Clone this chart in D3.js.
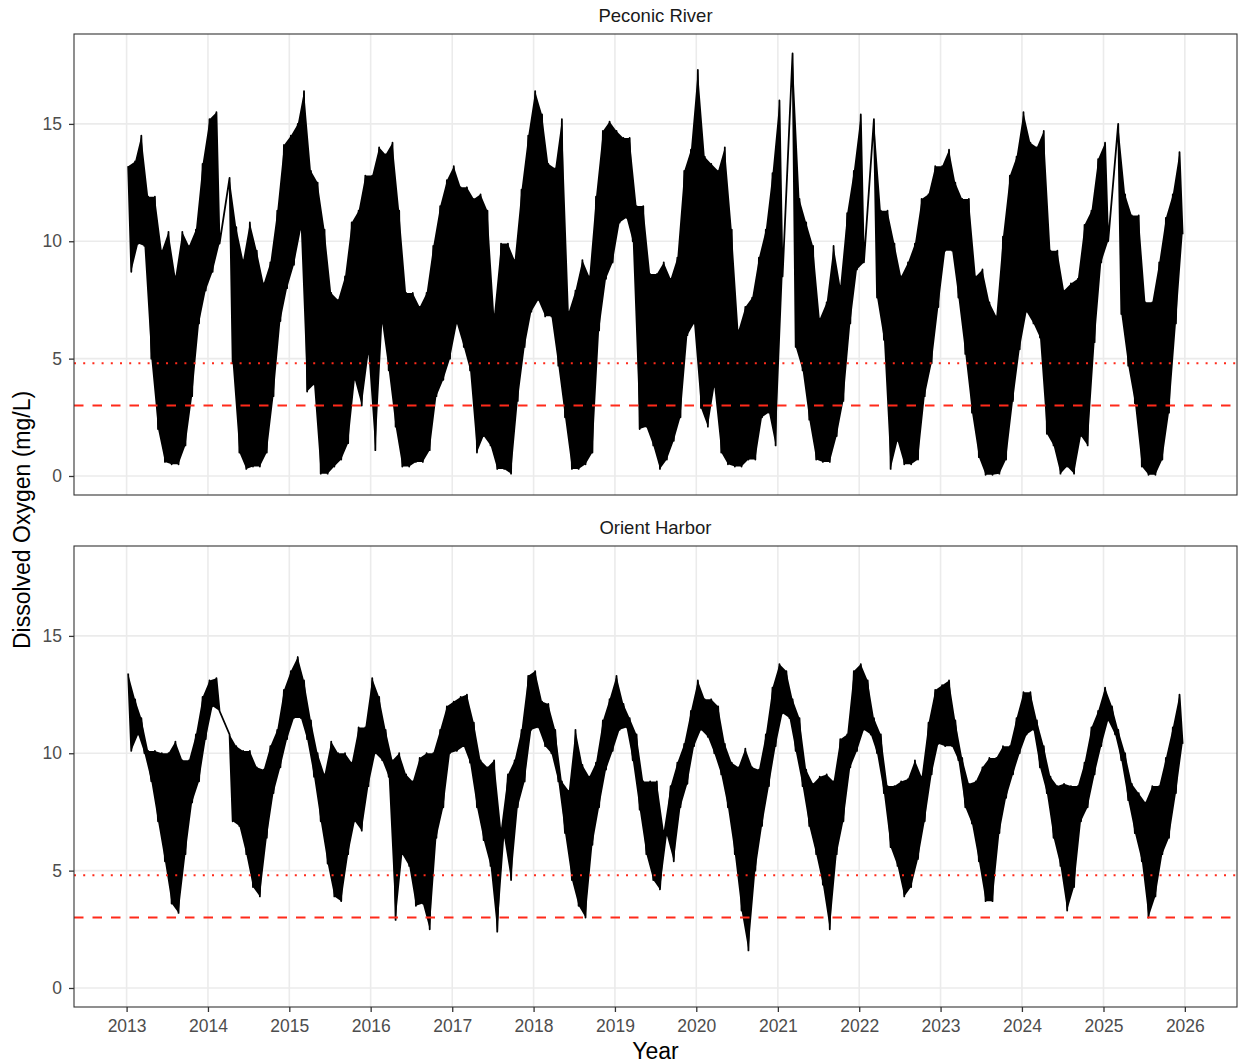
<!DOCTYPE html>
<html>
<head>
<meta charset="utf-8">
<script src="https://cdn.jsdelivr.net/npm/d3@7"></script>
<style>
  body { margin: 0; background: #fff; }
  svg { display: block; font-family: "Liberation Sans", Arial, Helvetica, sans-serif; }
</style>
</head>
<body>
<svg id="chart" width="1239" height="1064"></svg>
<script>
// facets, ticks and reference levels
let sites = ["Peconic River", "Orient Harbor"];
let yTicks = [0, 5, 10, 15];
let xTicks = [2013, 2014, 2015, 2016, 2017, 2018, 2019, 2020, 2021, 2022, 2023, 2024, 2025, 2026];
let refLevels = [4.8, 3];
let refStyles = ["dotted", "dashed"];

// monthly highs / lows, Jan 2013 .. Dec 2025 (null = no data)
let peconicHigh = [
  13.2, 13.4, 14.5, 11.9, 11.9, 9.6, 10.4, 8.5, 10.4, 9.8, 10.5, 13.3,
  15.2, 15.5, null, 12.7, 10.6, 9.2, 10.8, 9.6, 8.2, 9.1, 11.3, 14.1,
  14.5, 15.0, 16.4, 13.0, 12.5, 10.5, 7.8, 7.5, 8.5, 10.8, 11.3, 12.8,
  12.8, 14.0, 13.7, 14.2, 11.3, 7.8, 7.8, 7.2, 7.8, 9.8, 11.5, 12.6,
  13.2, 12.3, 12.3, 11.8, 12.0, 11.3, 6.9, 9.9, 9.9, 9.2, 12.2, 14.5,
  16.4, 15.4, 13.3, 13.1, 15.2, 7.0, 7.9, 9.2, 8.5, 11.9, 14.7, 15.1,
  14.7, 14.4, 14.4, 11.5, 11.5, 8.6, 8.6, 9.1, 8.4, 9.3, 13.0, 13.9,
  17.3, 13.6, 13.3, 13.0, 14.0, 10.5, 6.2, 7.2, 7.6, 9.3, 10.5, 12.9,
  16.0, null, 18.0, 11.8, 10.8, 9.8, 6.7, 7.4, 9.8, 8.1, 11.2, 13.0,
  15.4, null, 15.2, 11.3, 11.3, 9.9, 8.5, 9.1, 9.9, 11.8, 12.0, 13.2,
  13.2, 13.9, 12.5, 11.8, 11.8, 8.5, 8.8, 7.4, 6.8, 10.2, 12.8, 13.6,
  15.5, 14.2, 14.0, 14.7, 9.6, 9.6, 7.9, 8.2, 8.4, 10.7, 11.3, 13.5,
  14.2, null, 15.0, 12.0, 11.1, 11.1, 7.4, 7.4, 9.1, 11.0, 12.0, 13.8
];
let peconicLow = [
  8.7, 9.9, 9.8, 5.0, 2.0, 0.6, 0.5, 0.5, 1.3, 3.4, 6.5, 7.9,
  8.7, 9.9, null, 4.8, 1.0, 0.3, 0.4, 0.4, 1.0, 3.4, 6.6, 8.0,
  9.0, 10.5, 3.6, 3.9, 0.1, 0.1, 0.4, 0.7, 1.4, 4.1, 3.0, 5.2,
  1.1, 6.5, 4.5, 2.1, 0.4, 0.4, 0.6, 0.6, 1.1, 3.4, 4.1, 5.0,
  6.5, 5.5, 4.5, 1.0, 1.7, 1.3, 0.3, 0.3, 0.1, 3.2, 5.5, 7.0,
  7.5, 6.8, 6.8, 4.7, 2.5, 0.3, 0.3, 0.5, 1.0, 6.2, 8.4, 9.1,
  10.8, 11.0, 10.0, 2.0, 2.1, 1.3, 0.3, 0.7, 1.5, 2.5, 6.0, 6.5,
  2.9, 2.1, 3.8, 1.0, 0.5, 0.4, 0.4, 0.7, 0.7, 2.5, 2.7, 1.3,
  8.5, null, 5.5, 4.5, 2.4, 0.7, 0.6, 0.6, 1.7, 3.2, 6.5, 8.8,
  9.1, null, 7.6, 5.8, 0.3, 1.5, 0.5, 0.5, 0.7, 3.4, 4.8, 7.2,
  9.6, 9.6, 7.6, 5.2, 2.7, 0.8, 0.05, 0.05, 0.1, 0.7, 3.2, 5.4,
  7.0, 6.5, 5.9, 1.8, 1.3, 0.1, 0.4, 0.1, 1.7, 1.3, 5.7, 9.1,
  10.0, null, 6.9, 4.7, 3.1, 0.4, 0.05, 0.05, 0.7, 2.7, 6.5, 10.3
];
let orientHigh = [
  13.4, 12.3, 11.5, 10.1, 10.1, 10.0, 10.0, 10.5, 9.7, 9.7, 10.8, 12.4,
  13.1, 13.2, null, 10.8, 10.3, 10.1, 10.1, 9.4, 9.3, 10.3, 11.0, 12.7,
  13.5, 14.1, 13.1, 11.4, 10.0, 9.1, 10.5, 10.0, 10.0, 9.6, 11.1, 11.1,
  13.2, 12.4, 11.0, 9.7, 10.0, 9.1, 8.8, 9.8, 10.0, 10.0, 11.0, 12.0,
  12.2, 12.4, 12.5, 11.3, 9.7, 9.4, 9.7, 6.8, 9.1, 9.7, 11.0, 13.3,
  13.5, 12.2, 12.1, 11.0, 8.8, 8.4, 11.0, 9.5, 9.0, 9.6, 11.4, 12.3,
  13.3, 12.1, 11.5, 10.8, 8.8, 8.8, 8.8, 6.7, 8.6, 9.6, 10.4, 11.8,
  13.1, 12.3, 12.3, 12.0, 10.4, 9.6, 9.4, 10.2, 9.4, 9.3, 10.8, 12.8,
  13.8, 13.5, 12.3, 11.5, 9.3, 8.7, 9.0, 9.1, 8.8, 10.6, 10.8, 13.5,
  13.8, 13.1, 11.5, 10.8, 8.6, 8.6, 8.8, 8.9, 9.7, 9.0, 11.3, 12.7,
  12.9, 13.1, 11.4, 9.8, 8.7, 8.8, 9.4, 9.8, 9.8, 10.3, 10.3, 11.5,
  12.6, 12.6, 11.4, 10.3, 9.0, 8.6, 8.7, 8.6, 8.6, 9.6, 11.1, 11.8,
  12.8, 12.0, 11.0, 10.0, 8.7, 8.3, 7.9, 8.6, 8.6, 9.8, 11.1, 12.5
];
let orientLow = [
  10.1, 10.8, 10.0, 8.8, 7.1, 5.4, 3.6, 3.2, 5.7, 7.9, 8.8, 10.6,
  12.0, 11.8, null, 7.1, 6.9, 5.7, 4.3, 3.9, 6.4, 8.3, 9.4, 10.6,
  11.5, 11.5, 10.6, 9.0, 7.1, 5.3, 3.9, 3.7, 5.7, 7.1, 6.7, 8.6,
  10.0, 9.7, 9.0, 2.9, 5.7, 5.2, 3.5, 3.6, 2.5, 6.4, 7.7, 10.0,
  10.1, 10.3, 9.6, 7.7, 6.3, 5.2, 2.4, 6.4, 4.6, 7.7, 8.8, 11.0,
  11.1, 10.3, 10.0, 8.8, 6.6, 4.6, 3.5, 3.0, 6.1, 7.7, 9.3, 10.1,
  11.0, 11.1, 9.7, 7.6, 5.7, 4.6, 4.2, 6.5, 5.4, 7.7, 8.7, 10.3,
  11.0, 10.7, 10.0, 9.1, 7.7, 5.7, 3.3, 1.6, 5.0, 6.9, 8.6, 10.3,
  11.7, 11.5, 10.1, 8.6, 6.9, 5.7, 4.4, 2.5, 5.7, 7.1, 9.4, 10.1,
  11.0, 10.8, 10.0, 8.3, 6.0, 5.2, 3.9, 4.3, 5.5, 7.1, 9.1, 10.4,
  10.3, 10.3, 9.7, 7.7, 7.0, 5.4, 3.7, 3.7, 6.6, 8.1, 9.1, 10.0,
  10.8, 11.0, 9.4, 8.3, 6.4, 5.2, 3.3, 4.3, 7.1, 7.7, 9.1, 10.3,
  11.4, 10.8, 9.7, 8.0, 6.6, 5.4, 3.0, 3.9, 5.7, 6.4, 8.3, 10.4
];

let months = d3.timeMonth.range(new Date(2013, 0, 1), new Date(2026, 0, 1));

// one record per month: high reading early in the month, low reading later
makeMonths = (high, low) => months.map((m, i) => ({
    hiDate: d3.timeDay.offset(m, 7), hi: high[i],
    loDate: d3.timeDay.offset(m, 21), lo: low[i]
}));

// flattened readings for the line (gaps bridged, as in the original)
makeReadings = (recs) => {
    let out = [];
    recs.forEach(r => {
        if (r.hi == null) return;
        out.push({ date: r.hiDate, value: r.hi });
        out.push({ date: r.loDate, value: r.lo });
    });
    return out;
};

let monthly = [makeMonths(peconicHigh, peconicLow), makeMonths(orientHigh, orientLow)];

let left = 74, right = 1237, panelTop = 34, panelH = 461, panelStep = 512;

let svg = d3.select("#chart");

let xScale = d3.scaleTime()
    .domain([new Date(2012, 4, 10), new Date(2026, 7, 23)])
    .range([left, right]);

let yScale = d3.scaleLinear()
    .domain([-0.81, 18.83])
    .range([panelTop + panelH, panelTop]);

let line = d3.line()
    .x(d => xScale(d.date))
    .y(d => yScale(d.value));

let band = d3.area()
    .defined(d => d.hi != null)
    .x1(d => xScale(d.hiDate)).y1(d => yScale(d.hi))
    .x0(d => xScale(d.loDate)).y0(d => yScale(d.lo));

sites.forEach((site, p) => {
    let g = svg.append("g").attr("transform", "translate(0," + (p * panelStep) + ")");

    // grid
    g.selectAll(".hgrid").data(yTicks).enter().append("line")
        .attr("x1", left).attr("x2", right)
        .attr("y1", d => yScale(d)).attr("y2", d => yScale(d))
        .attr("stroke", "#EBEBEB").attr("stroke-width", 1.6);
    g.selectAll(".vgrid").data(xTicks).enter().append("line")
        .attr("x1", d => xScale(new Date(d, 0, 1))).attr("x2", d => xScale(new Date(d, 0, 1)))
        .attr("y1", panelTop).attr("y2", panelTop + panelH)
        .attr("stroke", "#EBEBEB").attr("stroke-width", 1.6);

    g.append("clipPath").attr("id", "clip" + p)
        .append("rect").attr("x", left).attr("y", panelTop)
        .attr("width", right - left).attr("height", panelH);

    // dense daily swings: filled band between the monthly extremes
    g.append("path")
        .datum(monthly[p])
        .attr("clip-path", "url(#clip" + p + ")")
        .attr("d", band)
        .attr("fill", "#000");

    g.append("path")
        .datum(makeReadings(monthly[p]))
        .attr("clip-path", "url(#clip" + p + ")")
        .attr("d", line)
        .attr("fill", "none")
        .attr("stroke", "#000")
        .attr("stroke-width", 1.8)
        .attr("stroke-linejoin", "round");

    // reference levels
    g.selectAll(".ref").data(refLevels).enter().append("line")
        .attr("x1", left).attr("x2", right)
        .attr("y1", d => yScale(d)).attr("y2", d => yScale(d))
        .attr("stroke", "#FF2A1A")
        .attr("stroke-width", 2)
        .attr("stroke-dasharray", (d, i) => refStyles[i] == "dotted" ? "2,7.2" : "9.5,9");

    // border
    g.append("rect")
        .attr("x", left).attr("y", panelTop)
        .attr("width", right - left).attr("height", panelH)
        .attr("fill", "none").attr("stroke", "#333333").attr("stroke-width", 1.1);

    // y axis
    let yAxis = g.append("g")
        .attr("transform", "translate(" + left + ",0)")
        .call(d3.axisLeft(yScale).tickValues(yTicks).tickSize(5).tickPadding(7));
    yAxis.select(".domain").remove();
    yAxis.selectAll("line").attr("stroke", "#333333").attr("stroke-width", 1.3);
    yAxis.selectAll("text").attr("fill", "#4D4D4D").attr("font-size", "17.5px")
        .attr("font-family", "Liberation Sans, Arial, sans-serif");

    // strip label
    g.append("text")
        .attr("x", (left + right) / 2)
        .attr("y", panelTop - 12)
        .attr("text-anchor", "middle")
        .attr("font-size", "18.5px")
        .attr("fill", "#1A1A1A")
        .text(site);
});

// x axis on lower panel
let xAxis = svg.append("g")
    .attr("transform", "translate(0," + (panelTop + panelH + panelStep) + ")")
    .call(d3.axisBottom(xScale)
        .tickValues(xTicks.map(d => new Date(d, 0, 1)))
        .tickFormat(d3.timeFormat("%Y"))
        .tickSize(5).tickPadding(8));
xAxis.select(".domain").remove();
xAxis.selectAll("line").attr("stroke", "#333333").attr("stroke-width", 1.3);
xAxis.selectAll("text").attr("fill", "#4D4D4D").attr("font-size", "17.5px")
    .attr("font-family", "Liberation Sans, Arial, sans-serif");

// axis titles
svg.append("text")
    .attr("x", (left + right) / 2)
    .attr("y", 1059)
    .attr("text-anchor", "middle")
    .attr("font-size", "23px")
    .attr("fill", "#000")
    .text("Year");

svg.append("text")
    .attr("transform", "translate(30,520) rotate(-90)")
    .attr("text-anchor", "middle")
    .attr("font-size", "23px")
    .attr("fill", "#000")
    .text("Dissolved Oxygen (mg/L)");
</script>
</body>
</html>
